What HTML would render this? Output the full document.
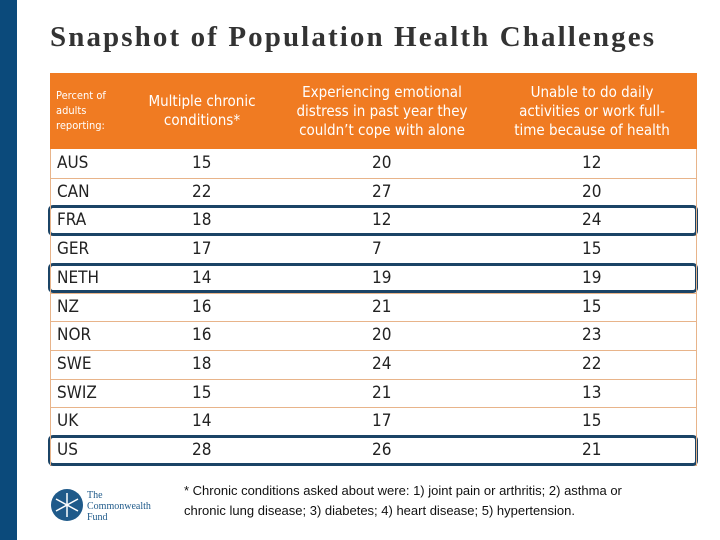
<!DOCTYPE html>
<html><head><meta charset="utf-8"><style>
body{margin:0;width:720px;height:540px;background:#fff;position:relative;overflow:hidden;font-family:"Liberation Sans",sans-serif}
.abs{position:absolute}
#bar{left:0;top:0;width:17px;height:540px;background:#0b4a7b}
#title{left:50px;top:21px;font-family:"Liberation Serif",serif;font-weight:bold;font-size:29px;letter-spacing:2.1px;color:#333;white-space:nowrap}
#hdr{left:50px;top:73px;width:647px;height:76px;background:#f07b22}
.h{color:#fff;text-align:center;font-size:15px;line-height:19px;font-family:"DejaVu Sans Condensed","DejaVu Sans",sans-serif}
.cell{font-size:17px;color:#222;font-family:"DejaVu Sans Condensed","DejaVu Sans",sans-serif}
.line{height:1px;background:#e8b48a;left:50px;width:647px}
.hl{border:3px solid #1b4466;border-radius:5px;left:48px;width:644px;box-sizing:content-box}
#foot{left:184px;top:481px;font-size:13px;line-height:20px;color:#111;width:480px}
</style></head><body>
<div id="bar" class="abs"></div>
<div id="title" class="abs">Snapshot of Population Health Challenges</div>
<div id="hdr" class="abs"></div>
<div class="abs h" style="left:56px;top:88px;text-align:left;font-size:11px;line-height:15px">Percent of<br>adults<br>reporting:</div>
<div class="abs h" style="left:132px;top:92px;width:140px">Multiple chronic<br>conditions*</div>
<div class="abs h" style="left:277px;top:83px;width:210px">Experiencing emotional<br>distress in past year they<br>couldn’t cope with alone</div>
<div class="abs h" style="left:492px;top:83px;width:200px">Unable to do daily<br>activities or work full-<br>time because of health</div>
<div id="rows"></div>
<div class="abs line" style="top:149px;left:50px;width:1px;height:316px"></div>
<div class="abs line" style="top:149px;left:696px;width:1px;height:316px"></div>
<svg class="abs" style="left:50px;top:488px" width="44" height="36">
<circle cx="17" cy="17" r="16" fill="#1f5a8a"/><g stroke="#fff" stroke-width="1.5"><line x1="17" y1="5" x2="17" y2="29"/><line x1="6" y1="11" x2="28" y2="23"/><line x1="6" y1="23" x2="28" y2="11"/></g></svg>
<div class="abs" style="left:87px;top:490px;font-family:'Liberation Serif',serif;font-size:10px;line-height:11px;color:#1f5a8a">The<br>Commonwealth<br>Fund</div>
<div id="foot" class="abs">* Chronic conditions asked about were: 1) joint pain or arthritis; 2) asthma or chronic lung disease; 3) diabetes; 4) heart disease; 5) hypertension.</div>
<script>
const countries=["AUS","CAN","FRA","GER","NETH","NZ","NOR","SWE","SWIZ","UK","US"];
const chronic=[15,22,18,17,14,16,16,18,15,14,28];
const distress=[20,27,12,7,19,21,20,24,21,17,26];
const unable=[12,20,24,15,19,15,23,22,13,15,21];
const highlighted=["FRA","NETH","US"];
const root=document.getElementById('rows');
const top0=149,rh=28.7;
countries.forEach((c,i)=>{
  const y=top0+i*rh;
  const ln=document.createElement('div');ln.className='abs line';ln.style.top=(y+rh)+'px';
  
  
  root.appendChild(ln);
  const vals=[c,chronic[i],distress[i],unable[i]];
  const xs=[57,192,372,582];
  vals.forEach((v,j)=>{
    const d=document.createElement('div');d.className='abs cell';d.textContent=v;
    d.style.left=xs[j]+'px';d.style.top=(y+4)+'px';
    
    
    root.appendChild(d);
  });
  if(highlighted.includes(c)){
    const h=document.createElement('div');h.className='abs hl';
    h.style.top=(y-1)+'px';h.style.height=(rh-4)+'px';
    
    
    root.appendChild(h);
  }
});
</script>
</body></html>
